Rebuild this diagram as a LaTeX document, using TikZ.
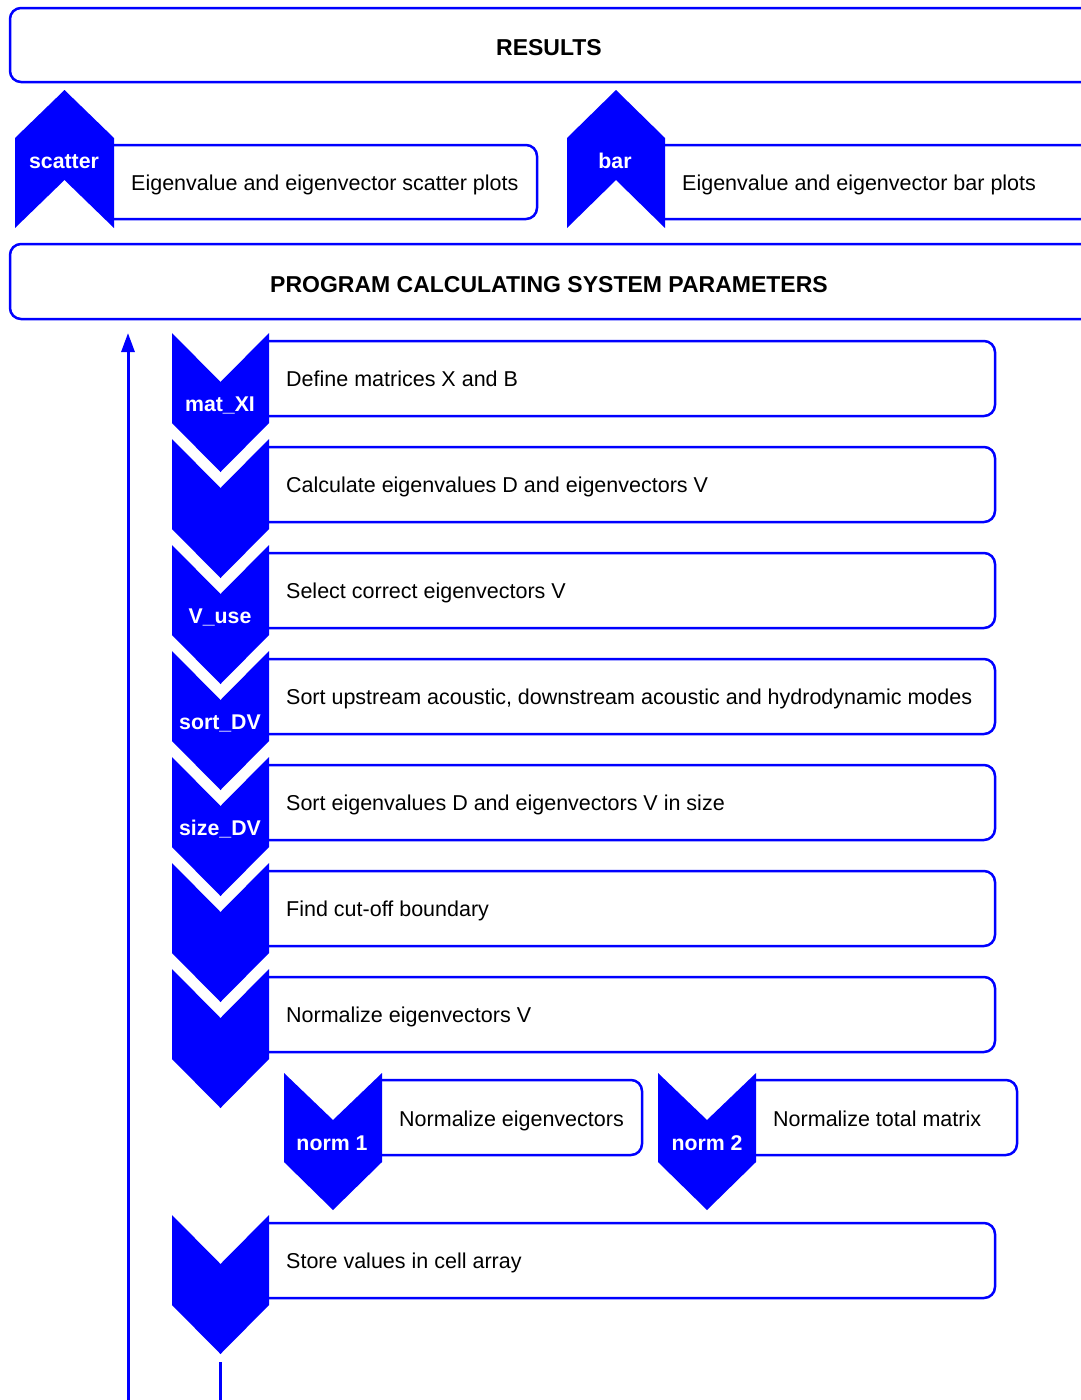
\documentclass[tikz,border=0pt]{standalone}
\usepackage{fontspec}
\setmainfont{Liberation Sans}
\usetikzlibrary{arrows.meta}
\definecolor{flowblue}{RGB}{0,0,255}

\begin{document}
\begin{tikzpicture}[x=1pt,y=-1pt,
    box/.style={draw=flowblue,line width=2.5pt,rounded corners=11pt},
    chev/.style={fill=flowblue,draw=none},
    flow/.style={draw=flowblue,line width=3pt},
    steptext/.style={anchor=base west,inner sep=0pt,font=\fontsize{21.5}{25}\selectfont},
    chevtext/.style={anchor=base,text=white,inner sep=0pt,font=\fontsize{21.3}{25}\selectfont\bfseries},
    headtext/.style={anchor=base,inner sep=0pt,font=\fontsize{23}{27}\selectfont\bfseries}]
\clip (0,0) rectangle (1081,1400);
\draw[box] (10,8) rectangle (1100,82);
\node[headtext] (results) at (549,55.5) {RESULTS};
\fill[chev] (15,228) -- (15,138) -- (64.5,90) -- (114,138) -- (114,228) -- (64.5,180) -- cycle;
\node[chevtext] (scatter) at (64,168) {scatter};
\draw[box] (114,145) -- (537,145) -- (537,219) -- (114,219);
\node[steptext] (scattertxt) at (131,190) {Eigenvalue and eigenvector scatter plots};
\fill[chev] (567,228) -- (567,138) -- (616,90) -- (665,138) -- (665,228) -- (616,180) -- cycle;
\node[chevtext] (bar) at (615,168) {bar};
\draw[box] (665,145) -- (1100,145) -- (1100,219) -- (665,219);
\node[steptext] (bartxt) at (682,190) {Eigenvalue and eigenvector bar plots};
\draw[box] (10,244) rectangle (1100,319);
\node[headtext] (program) at (549,292.5) {PROGRAM CALCULATING SYSTEM PARAMETERS};
\coordinate (loopfoot) at (128,1402);
\coordinate (looptop) at (128,333);
\draw[flow,-{Triangle[length=19pt,width=13pt]}] (loopfoot) -- (looptop);
\draw[box] (269,341) -- (995,341) -- (995,416) -- (269,416);
\fill[chev] (172,333) -- (220.5,382) -- (269,333) -- (269,423) -- (220.5,472) -- (172,423) -- cycle;
\node[chevtext] (matxi) at (220,411) {mat\_XI};
\node[steptext] (defmat) at (286,386) {Define matrices X and B};
\draw[box] (269,447) -- (995,447) -- (995,522) -- (269,522);
\fill[chev] (172,439) -- (220.5,488) -- (269,439) -- (269,529) -- (220.5,578) -- (172,529) -- cycle;
\node[steptext] (calceig) at (286,492) {Calculate eigenvalues D and eigenvectors V};
\draw[box] (269,553) -- (995,553) -- (995,628) -- (269,628);
\fill[chev] (172,545) -- (220.5,594) -- (269,545) -- (269,635) -- (220.5,684) -- (172,635) -- cycle;
\node[chevtext] (vuse) at (220,623) {V\_use};
\node[steptext] (selvec) at (286,598) {Select correct eigenvectors V};
\draw[box] (269,659) -- (995,659) -- (995,734) -- (269,734);
\fill[chev] (172,651) -- (220.5,700) -- (269,651) -- (269,741) -- (220.5,790) -- (172,741) -- cycle;
\node[chevtext] (sortdv) at (220,729) {sort\_DV};
\node[steptext] (sortmodes) at (286,704) {Sort upstream acoustic, downstream acoustic and hydrodynamic modes};
\draw[box] (269,765) -- (995,765) -- (995,840) -- (269,840);
\fill[chev] (172,757) -- (220.5,806) -- (269,757) -- (269,847) -- (220.5,896) -- (172,847) -- cycle;
\node[chevtext] (sizedv) at (220,835) {size\_DV};
\node[steptext] (sortsize) at (286,810) {Sort eigenvalues D and eigenvectors V in size};
\draw[box] (269,871) -- (995,871) -- (995,946) -- (269,946);
\fill[chev] (172,863) -- (220.5,912) -- (269,863) -- (269,953) -- (220.5,1002) -- (172,953) -- cycle;
\node[steptext] (cutoff) at (286,916) {Find cut-off boundary};
\draw[box] (269,977) -- (995,977) -- (995,1052) -- (269,1052);
\fill[chev] (172,969) -- (220.5,1018) -- (269,969) -- (269,1059) -- (220.5,1108) -- (172,1059) -- cycle;
\node[steptext] (normvec) at (286,1022) {Normalize eigenvectors V};
\draw[box] (382,1080) -- (642,1080) -- (642,1155) -- (382,1155);
\fill[chev] (284,1073) -- (333,1120) -- (382,1073) -- (382,1162) -- (333,1210) -- (284,1162) -- cycle;
\node[chevtext] (normone) at (332,1150) {norm 1};
\node[steptext] (normonetxt) at (399,1126) {Normalize eigenvectors};
\draw[box] (756,1080) -- (1017,1080) -- (1017,1155) -- (756,1155);
\fill[chev] (658,1073) -- (707,1120) -- (756,1073) -- (756,1162) -- (707,1210) -- (658,1162) -- cycle;
\node[chevtext] (normtwo) at (707,1150) {norm 2};
\node[steptext] (normtwotxt) at (773,1126) {Normalize total matrix};
\draw[box] (269,1223) -- (995,1223) -- (995,1298) -- (269,1298);
\fill[chev] (172,1215) -- (220.5,1264) -- (269,1215) -- (269,1305) -- (220.5,1354) -- (172,1305) -- cycle;
\node[steptext] (store) at (286,1268) {Store values in cell array};
\coordinate (storetip) at (220.5,1362);
\coordinate (tailend) at (220.5,1402);
\draw[flow] (storetip) -- (tailend);
\end{tikzpicture}
\end{document}
